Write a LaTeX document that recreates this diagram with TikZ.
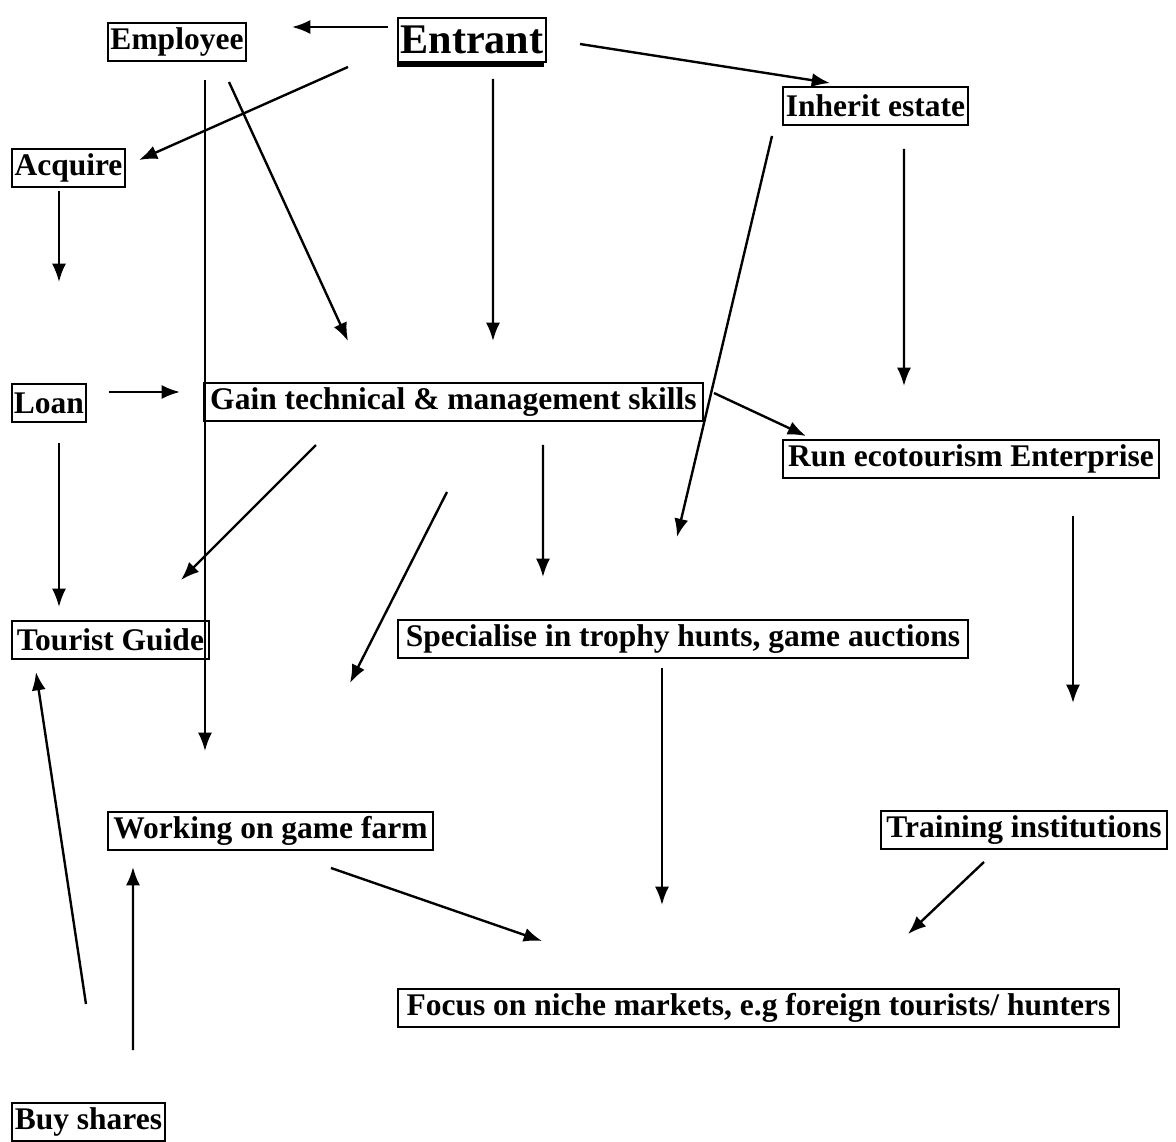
\documentclass[tikz,border=0pt]{standalone}
\usepackage{fontspec}
\setmainfont{Liberation Serif}
\usepackage{tikz}
\usetikzlibrary{arrows.meta, calc}

\begin{document}
\begin{tikzpicture} [x=0.025cm, y=-0.025cm,
	box/.style={draw, line width=1.4pt, anchor=west, inner sep=1pt,
		minimum height=0.95cm, font=\bfseries\fontsize{22.4}{24}\selectfont},
	wd/.style={minimum width=#1*0.025cm},
	arr/.style={line width=1.7pt, -{Latex[length=13pt, width=10pt]}}]
	\useasboundingbox (0,0) rectangle (1176,1142);

	% boxes
	\node[box, wd=148, minimum height=1.1cm, font=\bfseries\fontsize{30}{32}\selectfont] (entrant) at (397,40) {Entrant};
	\node[box, wd=138] (employee) at (107,42) {Employee};
	\node[box, wd=185] (inherit) at (782,106) {Inherit estate};
	\node[box, wd=113] (acquire) at (11,168) {Acquire};
	\node[box, wd=74] (loan) at (11,403) {Loan};
	\node[box, wd=499] (gain) at (203,402) {Gain technical \& management skills};
	\node[box, wd=376] (run) at (782,459) {Run ecotourism Enterprise};
	\node[box, wd=197] (guide) at (11,640) {Tourist Guide};
	\node[box, wd=570] (special) at (397,639) {Specialise in trophy hunts, game auctions};
	\node[box, wd=325] (working) at (107,831) {Working on game farm};
	\node[box, wd=286] (training) at (880,830) {Training institutions};
	\node[box, wd=721] (focus) at (397,1008) {Focus on niche markets, e.g foreign tourists/ hunters};
	\node[box, wd=153] (shares) at (11,1122) {Buy shares};
	\draw[line width=2.5pt] ($(entrant.south west)+(0,2)$) -- ($(entrant.south east)+(-3,2)$);

	% arrows
	\draw[arr] ($(entrant.west)+(-9,-13)$) -- ($(employee.east)+(45,-15)$);
	\draw[arr] ($(entrant.south west)+(-49,4)$) -- ($(acquire.east)+(13,-8)$);
	\draw[arr] ($(entrant.east)+(33,4)$) -- ($(inherit.north west)+(48,-3)$);
	\draw[arr] ($(entrant.south)+(21,16)$) -- ($(gain.north)+(39.5,-41)$);
	\draw[arr] ($(employee.south)+(28,18)$) -- ($(working.north)+(-65.5,-60)$);
	\draw[arr] ($(employee.south)+(52,20)$) -- ($(gain.north west)+(145,-41)$);
	\draw[arr] ($(inherit.south west)+(-10,10)$) -- ($(special.north)+(-6,-82)$);
	\draw[arr] ($(inherit.south)+(28.5,23)$) -- ($(run.north)+(-67,-53)$);
	\draw[arr] ($(acquire.south)+(-9.5,3)$) -- ($(loan.north)+(10,-101)$);
	\draw[arr] ($(loan.east)+(22,-11)$) -- ($(gain.west)+(-23,-10)$);
	\draw[arr] ($(loan.south)+(10,20)$) -- ($(guide.north)+(-51.5,-13)$);
	\draw[arr] ($(gain.east)+(10,-9)$) -- ($(run.north west)+(24,-3)$);
	\draw[arr] ($(gain.south)+(-137.5,23)$) -- ($(guide.north)+(70.5,-40)$);
	\draw[arr] ($(gain.south)+(-6.5,70)$) -- ($(working.north)+(79.5,-128)$);
	\draw[arr] ($(gain.south)+(89.5,23)$) -- ($(special.north)+(-140,-42)$);
	\draw[arr] ($(run.south)+(102,37)$) -- ($(training.north)+(49,-107)$);
	\draw[arr] ($(special.south)+(-21,9)$) -- ($(focus.north)+(-96.5,-83)$);
	\draw[arr] ($(working.south)+(60.5,17)$) -- ($(focus.north)+(-216.5,-47)$);
	\draw[arr] ($(training.south)+(-40,12)$) -- ($(focus.north)+(149.5,-54)$);
	\draw[arr] ($(shares.north)+(-2.5,-98)$) -- ($(guide.south)+(-74.5,12)$);
	\draw[arr] ($(shares.north)+(44.5,-52)$) -- ($(working.south)+(-137.5,16)$);
\end{tikzpicture}
\end{document}
